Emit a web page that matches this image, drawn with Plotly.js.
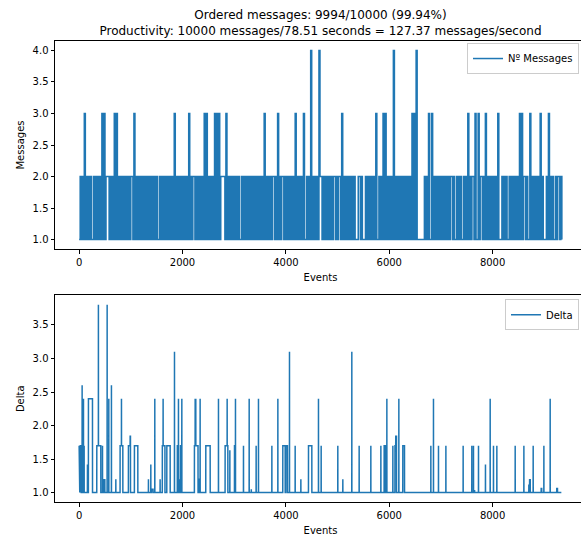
<!DOCTYPE html>
<html>
<head>
<meta charset="utf-8">
<script src="https://cdn.plot.ly/plotly-3.0.1.min.js"></script>
<style>html,body{margin:0;padding:0;overflow:hidden;background:#fff}</style>
</head>
<body>
<div id="chart"></div>
<script>
// ---- texts ----
const titleLine1 = "Ordered messages: 9994/10000 (99.94%)";
const titleLine2 = "Productivity: 10000 messages/78.51 seconds = 127.37 messages/second";
const messagesLabel = "Nº Messages";
const deltaLabel = "Delta";
const eventsAxisTitle = "Events";
const messagesAxisTitle = "Messages";
const deltaAxisTitle = "Delta";

// ---- ticks ----
const eventTicks = [0, 2000, 4000, 6000, 8000];
const messageTicks = [1.0, 1.5, 2.0, 2.5, 3.0, 3.5, 4.0];
const deltaTicks = [1.0, 1.5, 2.0, 2.5, 3.0, 3.5];

// ---- Nº Messages: value read every 20 events (one character per sample) ----
const messageStep = 20;
const messageSamples = [
  "1212131212", "1211212121", "2131312221", "2121313121", "2121212121",
  "2213121212", "1212121212", "1212121121", "2121212121", "2131212121",
  "2121213121", "2212121212", "1313121212", "1313131222", "2131212121",
  "2121211212", "1212121212", "1212121213", "1212121221", "2131212212",
  "1212121213", "1212121311", "2121412121", "2142212121", "2121212212",
  "1221312121", "2121212111", "2212111212", "1212121311", "2121313121",
  "2121412121", "2121212121", "2131314111", "1111212131", "1312121212",
  "1212121212", "2121121212", "1121213121", "2213113122", "1213121212",
  "1212131112", "1212112121", "2121213131", "2212113121", "2121213121",
  "112131212112122121"
];

// ---- Delta: [event, value] points of the drawn line ----
const deltaSeries = [
  [0,1.7],[12,1.0],[22,1.7],[38,1.7],[40,1.0],
  [57,1.0],[58,2.6],[59,1.0],
  [83,1.0],[84,2.4],[85,1.0],
  [96,1.0],[97,1.7],[98,1.0],
  [160,1.0],[161,1.42],[162,1.0],
  [179,1.0],[180,2.4],[258,2.4],[259,1.0],
  [341,1.0],[342,1.7],[372,1.7],[373,3.8],[374,1.7],[419,1.7],[420,1.0],
  [451,1.0],[452,1.7],[453,1.0],
  [469,1.0],[470,1.19],[497,1.19],[498,1.0],
  [541,1.0],[542,3.8],[543,1.0],
  [573,1.0],[574,2.4],[575,1.0],
  [624,1.0],[625,2.6],[626,1.0],
  [709,1.0],[710,1.2],[711,1.0],
  [792,1.0],[793,1.7],[818,1.7],[819,2.4],[820,1.7],[845,1.7],[846,1.0],
  [953,1.0],[954,1.7],[986,1.7],[987,1.84],[993,1.84],[994,1.0],
  [1069,1.0],[1070,1.7],[1135,1.7],[1136,1.0],
  [1340,1.0],[1341,1.2],[1342,1.0],
  [1386,1.0],[1387,1.42],[1388,1.0],
  [1400,1.0],[1401,1.05],[1430,1.05],[1431,1.0],
  [1463,1.0],[1464,2.4],[1465,1.0],
  [1566,1.0],[1567,1.2],[1568,1.0],
  [1609,1.0],[1610,1.7],[1624,1.7],[1625,2.4],[1626,1.7],[1660,1.7],[1661,1.0],
  [1696,1.0],[1697,1.7],[1761,1.7],[1762,1.0],
  [1844,1.0],[1845,3.1],[1846,1.0],
  [1899,1.0],[1900,1.7],[1921,1.7],[1922,2.4],[1923,1.0],
  [1941,1.0],[1942,1.2],[1943,1.0],
  [1960,1.0],[1961,1.7],[1986,1.7],[1987,2.4],[1988,1.0],
  [2230,1.0],[2231,1.7],[2244,1.7],[2245,2.4],[2246,1.7],[2256,1.7],[2257,2.4],[2258,1.7],[2300,1.7],[2301,1.0],
  [2320,1.0],[2321,1.2],[2335,1.2],[2336,1.0],
  [2340,1.0],[2341,2.4],[2342,1.0],
  [2450,1.0],[2451,1.7],[2535,1.7],[2536,1.0],
  [2695,1.0],[2696,2.4],[2697,1.0],
  [2824,1.0],[2825,1.7],[2863,1.7],[2864,2.4],[2865,1.7],[2877,1.7],[2878,1.0],
  [2915,1.0],[2916,1.63],[2917,1.0],
  [3005,1.0],[3006,1.7],[3024,1.7],[3025,2.4],[3026,1.0],
  [3179,1.0],[3180,1.7],[3181,1.0],
  [3289,1.0],[3290,2.4],[3291,1.0],
  [3330,1.0],[3331,1.05],[3332,1.0],
  [3424,1.0],[3425,1.7],[3426,1.0],
  [3469,1.0],[3470,2.4],[3471,1.0],
  [3728,1.0],[3729,1.7],[3730,1.0],
  [3844,1.0],[3845,2.4],[3846,1.0],
  [3940,1.0],[3941,1.7],[3986,1.7],[3987,1.0],
  [3999,1.0],[4000,1.7],[4030,1.7],[4031,1.0],
  [4069,1.0],[4070,3.1],[4071,1.0],
  [4179,1.0],[4180,1.7],[4181,1.0],
  [4289,1.0],[4290,1.2],[4291,1.0],
  [4437,1.0],[4438,1.7],[4502,1.7],[4503,1.0],
  [4630,1.0],[4631,2.4],[4632,1.0],
  [4682,1.0],[4683,1.7],[4684,1.0],
  [5004,1.0],[5005,1.7],[5006,1.0],
  [5101,1.0],[5102,1.2],[5103,1.0],
  [5275,1.0],[5276,3.1],[5277,1.0],
  [5417,1.0],[5418,1.7],[5419,1.0],
  [5643,1.0],[5644,1.7],[5645,1.0],
  [5837,1.0],[5838,1.7],[5839,1.0],
  [5901,1.0],[5902,1.7],[5928,1.7],[5929,1.0],
  [5953,1.0],[5954,2.4],[5955,1.0],
  [6069,1.0],[6070,1.7],[6071,1.0],
  [6110,1.0],[6111,1.7],[6125,1.7],[6126,1.84],[6140,1.84],[6141,1.0],
  [6185,1.0],[6186,2.4],[6187,1.0],
  [6262,1.0],[6263,1.7],[6295,1.7],[6296,1.0],
  [6804,1.0],[6805,1.7],[6806,1.0],
  [6855,1.0],[6856,2.4],[6857,1.0],
  [6952,1.0],[6953,1.7],[6954,1.0],
  [7095,1.0],[7096,1.7],[7097,1.0],
  [7429,1.0],[7430,1.7],[7431,1.0],
  [7597,1.0],[7598,1.7],[7599,1.0],
  [7629,1.0],[7630,1.7],[7631,1.0],
  [7650,1.0],[7651,1.04],[7652,1.0],
  [7726,1.0],[7727,1.7],[7728,1.0],
  [7861,1.0],[7862,1.42],[7863,1.0],
  [7952,1.0],[7953,2.4],[7954,1.0],
  [8016,1.0],[8017,1.7],[8018,1.0],
  [8081,1.0],[8082,1.7],[8083,1.0],
  [8436,1.0],[8437,1.7],[8438,1.0],
  [8604,1.0],[8605,1.7],[8606,1.0],
  [8700,1.0],[8701,1.11],[8715,1.11],[8716,1.19],[8728,1.19],[8729,1.0],
  [8784,1.0],[8785,1.7],[8786,1.0],
  [8939,1.0],[8940,1.06],[8950,1.06],[8951,1.0],
  [8991,1.0],[8992,1.7],[8993,1.0],
  [9113,1.0],[9114,2.4],[9115,1.0],
  [9240,1.0],[9241,1.06],[9255,1.06],[9256,1.0],
  [9330,1.0]
];

// ---- build traces from the data ----
const msgChars = messageSamples.join("").split("");
const msgX = msgChars.map((c, i) => i * messageStep);
const msgY = msgChars.map(c => Number(c));
const deltaX = deltaSeries.map(p => p[0]);
const deltaY = deltaSeries.map(p => p[1]);

const blue = "#1f77b4";
const traces = [
  {x: msgX, y: msgY, type: "scatter", mode: "lines", name: messagesLabel,
   xaxis: "x", yaxis: "y", legend: "legend",
   line: {color: blue, width: 1.5, simplify: false, shape: "hv"}},
  {x: deltaX, y: deltaY, type: "scatter", mode: "lines", name: deltaLabel,
   xaxis: "x2", yaxis: "y2", legend: "legend2",
   line: {color: blue, width: 1.5, simplify: false}}
];

const fontFam = "DejaVu Sans, sans-serif";
function xAxis(anchor) {
  return {
    anchor: anchor, domain: [0, 1], range: [-467, 9807],
    tickmode: "array", tickvals: eventTicks, ticktext: eventTicks.map(String),
    ticks: "outside", ticklen: 3.5, tickwidth: 1, tickcolor: "#000",
    showline: true, linecolor: "#000", linewidth: 1, mirror: true,
    showgrid: false, zeroline: false,
    tickfont: {family: fontFam, size: 10, color: "#000"},
    title: {text: eventsAxisTitle, standoff: 7, font: {family: fontFam, size: 10, color: "#000"}}
  };
}
function yAxis(anchor, domain, range, ticks, title) {
  return {
    anchor: anchor, domain: domain, range: range,
    tickmode: "array", tickvals: ticks, ticktext: ticks.map(v => v.toFixed(1)),
    ticks: "outside", ticklen: 3.5, tickwidth: 1, tickcolor: "#000",
    showline: true, linecolor: "#000", linewidth: 1, mirror: true,
    showgrid: false, zeroline: false,
    tickfont: {family: fontFam, size: 10, color: "#000"},
    title: {text: title, standoff: 6, font: {family: fontFam, size: 10, color: "#000"}}
  };
}

const legendStyle = {
  xref: "paper", yref: "paper", xanchor: "right", yanchor: "top",
  bgcolor: "rgba(255,255,255,0.8)", bordercolor: "#cccccc", borderwidth: 1,
  font: {family: fontFam, size: 10, color: "#000"}, itemwidth: 30
};

const layout = {
  width: 590, height: 540,
  margin: {l: 55, r: 4, t: 41, b: 38},
  paper_bgcolor: "#fff", plot_bgcolor: "#fff",
  font: {family: fontFam, size: 10, color: "#000"},
  title: {
    text: titleLine1 + "<br>" + titleLine2,
    font: {family: fontFam, size: 12, color: "#000"},
    x: 0.5, xref: "paper", xanchor: "center",
    y: 1 - 19 / 540, yref: "container", yanchor: "top"
  },
  showlegend: true,
  legend: Object.assign({x: 0.9868, y: 0.9956}, legendStyle),
  legend2: Object.assign({x: 0.9868, y: 0.440}, legendStyle),
  xaxis: xAxis("y"),
  yaxis: yAxis("x", [0.5488, 1], [0.85, 4.15], messageTicks, messagesAxisTitle),
  xaxis2: xAxis("y2"),
  yaxis2: yAxis("x2", [0, 0.448], [0.86, 3.94], deltaTicks, deltaAxisTitle)
};

Plotly.newPlot("chart", traces, layout, {staticPlot: true, displayModeBar: false});
</script>
</body>
</html>
